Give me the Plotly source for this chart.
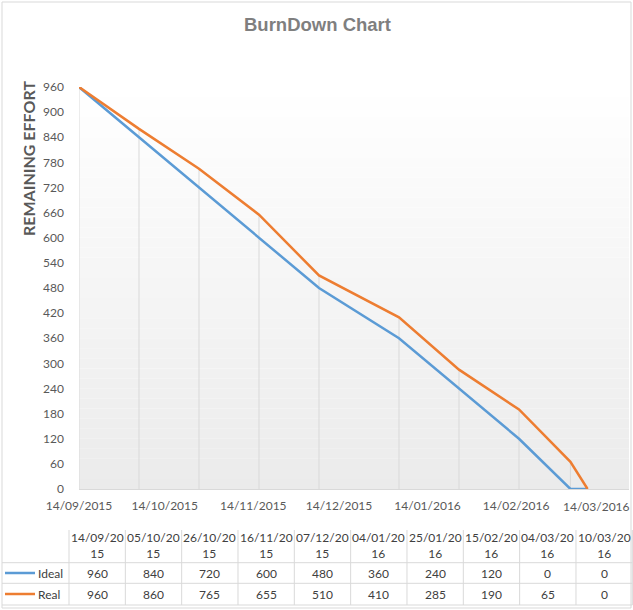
import plotly.graph_objects as go

# ---------------- data ----------------
dates = ["2015-09-14", "2015-10-05", "2015-10-26", "2015-11-16", "2015-12-07",
         "2016-01-04", "2016-01-25", "2016-02-15", "2016-03-04", "2016-03-10"]
ideal = [960, 840, 720, 600, 480, 360, 240, 120, 0, 0]
real = [960, 860, 765, 655, 510, 410, 285, 190, 65, 0]
series_names = ["Ideal", "Real"]
y_ticks = list(range(0, 961, 60))
x_tick_dates = ["2015-09-14", "2015-10-14", "2015-11-14", "2015-12-14",
                "2016-01-14", "2016-02-14", "2016-03-14"]

BLUE = "#5B9BD5"
ORANGE = "#ED7D31"
GRID = "#D9D9D9"
TXT = "#595959"
TXT2 = "#404040"

W, H = 633, 610
L, R, T, B = 79, 4, 87, 121
PW = W - L - R
PH = H - T - B


def px(xp):
    return (xp - L) / PW


def py(yp):
    return (H - B - yp) / PH


def dmy(d):
    y, m, dd = d.split("-")
    return f"{dd}/{m}/{y}"


fig = go.Figure()

# drop lines (from the highest series value to the axis)
dx, dy = [], []
for d, a, b in zip(dates, ideal, real):
    dx += [d, d, None]
    dy += [max(a, b), 0, None]
fig.add_trace(go.Scatter(x=dx, y=dy, mode="lines", line=dict(color=GRID, width=1),
                         hoverinfo="skip", showlegend=False))

fig.add_trace(go.Scatter(x=dates, y=ideal, mode="lines", name=series_names[0],
                         line=dict(color=BLUE, width=2.5)))
fig.add_trace(go.Scatter(x=dates, y=real, mode="lines", name=series_names[1],
                         line=dict(color=ORANGE, width=2.5)))

shapes = []
# plot-area gradient background
n = 40
for k in range(n):
    t = (k + 0.5) / n  # 0 bottom, 1 top
    c = int(round(0xEB + (0xFF - 0xEB) * t))
    shapes.append(dict(type="rect", xref="paper", yref="paper", x0=0, x1=1,
                       y0=k / n, y1=(k + 1) / n, fillcolor=f"rgb({c},{c},{c})",
                       line=dict(width=0), layer="below"))

# outer chart border
shapes.append(dict(type="rect", xref="paper", yref="paper", x0=px(2), x1=px(631),
                   y0=py(608), y1=py(2), line=dict(color=GRID, width=1),
                   fillcolor="rgba(0,0,0,0)", layer="above"))

# data table
tab_left = 69
col_w = (632.3 - tab_left) / len(dates)
hdr_top, row1_top, row2_top, tab_bot = 530, 562.7, 583.3, 605
for yl in (row1_top, row2_top, tab_bot):
    shapes.append(dict(type="line", xref="paper", yref="paper", x0=px(2), x1=px(632.3),
                       y0=py(yl), y1=py(yl), line=dict(color=GRID, width=1)))
for i in range(len(dates) + 1):
    xl = tab_left + i * col_w
    shapes.append(dict(type="line", xref="paper", yref="paper", x0=px(xl), x1=px(xl),
                       y0=py(hdr_top), y1=py(tab_bot), line=dict(color=GRID, width=1)))

annotations = []
tfont = dict(family="Lato", size=12, color=TXT2)
for i, d in enumerate(dates):
    cx = px(tab_left + (i + 0.5) * col_w)
    s = dmy(d)
    annotations.append(dict(x=cx, y=py(545.5), xref="paper", yref="paper",
                            text=s[:8] + "<br>" + s[8:], showarrow=False,
                            font=tfont, xanchor="center", yanchor="middle"))
    annotations.append(dict(x=cx, y=py(573), xref="paper", yref="paper",
                            text=str(ideal[i]), showarrow=False, font=tfont,
                            xanchor="center", yanchor="middle"))
    annotations.append(dict(x=cx, y=py(594), xref="paper", yref="paper",
                            text=str(real[i]), showarrow=False, font=tfont,
                            xanchor="center", yanchor="middle"))

for name, col, yr in ((series_names[0], BLUE, 573), (series_names[1], ORANGE, 594)):
    shapes.append(dict(type="line", xref="paper", yref="paper", x0=px(5), x1=px(35),
                       y0=py(yr), y1=py(yr), line=dict(color=col, width=2.5)))
    annotations.append(dict(x=px(35.5), y=py(yr), xref="paper", yref="paper",
                            text=name, showarrow=False, font=tfont,
                            xanchor="left", yanchor="middle"))

# last x tick label (kept inside the page so it is not hidden)
xfont = dict(family="Lato", size=12, color=TXT)
annotations.append(dict(x=x_tick_dates[-1], xref="x", y=py(506), yref="paper",
                        text=dmy(x_tick_dates[-1]), showarrow=False, font=xfont,
                        xanchor="right", yanchor="middle", xshift=33))

# y axis title
annotations.append(dict(x=px(28), y=py(159), xref="paper", yref="paper",
                        text="<b>REMAINING EFFORT</b>", textangle=-90, showarrow=False,
                        font=dict(family="Lato", size=16, color=TXT),
                        xanchor="center", yanchor="middle"))
# chart title
annotations.append(dict(x=px(317), y=py(25), xref="paper", yref="paper",
                        text="<b>BurnDown Chart</b>", showarrow=False,
                        font=dict(family="Liberation Sans", size=18.5, color="#7F7F7F"),
                        xanchor="center", yanchor="middle"))

fig.update_layout(
    width=W, height=H, autosize=False,
    margin=dict(l=L, r=R, t=T, b=B, pad=0),
    paper_bgcolor="white", plot_bgcolor="white",
    showlegend=False,
    shapes=shapes, annotations=annotations,
    xaxis=dict(type="date", range=["2015-09-14", "2016-03-24 12:00"],
               tickvals=x_tick_dates[:-1], ticktext=[dmy(d) for d in x_tick_dates[:-1]],
               showgrid=False, zeroline=False, showline=True, linecolor=GRID,
               linewidth=1, ticks="", ticklabelstandoff=6,
               tickfont=xfont),
    yaxis=dict(range=[0, 960], tickvals=y_ticks, showgrid=False, zeroline=False,
               showline=False, ticks="", ticklabelstandoff=14,
               tickfont=dict(family="Lato", size=12, color=TXT)),
)

fig.write_html("out.html")
